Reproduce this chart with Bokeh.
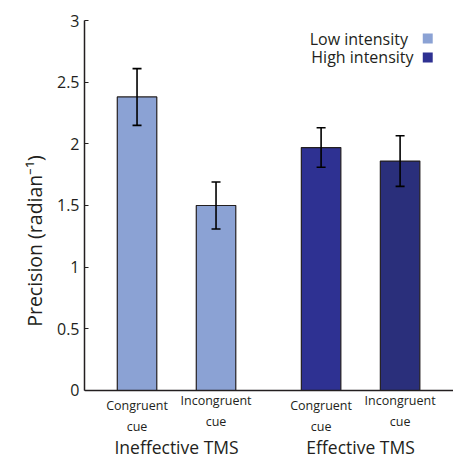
from bokeh.plotting import figure
from bokeh.models import (Range1d, FixedTicker, Whisker, TeeHead, Span,
                          ColumnDataSource, Label, BoxAnnotation, CustomJSTickFormatter)
from bokeh.core.properties import value
from bokeh.embed import file_html
from bokeh.resources import INLINE

# ---- data ----
groups = ["Ineffective TMS", "Effective TMS"]
cues = ["Congruent\ncue", "Incongruent\ncue"]
precision = [2.38, 1.50, 1.97, 1.86]
sem = [0.23, 0.19, 0.16, 0.205]
intensity = ["Low intensity", "Low intensity", "High intensity", "High intensity"]
bar_colors = ["#8ba2d4", "#8ba2d4", "#2e3192", "#2a2f7b"]
y_ticks = [0, 0.5, 1, 1.5, 2, 2.5, 3]
y_tick_labels = ["0", "0.5", "1", "1.5", "2", "2.5", "3"]
legend_labels = ["Low intensity", "High intensity"]
legend_colors = ["#8ba2d4", "#2e3192"]

# ---- style ----
FONT = "Open Sans"
TXT = "#231f20"
cue_label_offset = [-0.207, -0.166]   # vertical placement of the cue labels below the axis
group_label_offset = -0.455

group_gap = 1.33
xs, x_labels, cue_y = [], [], []
for gi, g in enumerate(groups):
    for ci, c in enumerate(cues):
        xs.append(gi * (len(cues) - 1 + group_gap) + ci)
        x_labels.append(c)
        cue_y.append(cue_label_offset[ci])
group_centers = [sum(xs[i * len(cues):(i + 1) * len(cues)]) / len(cues) for i in range(len(groups))]

src = ColumnDataSource(dict(
    x=xs, top=precision, color=bar_colors, label=intensity,
    upper=[v + e for v, e in zip(precision, sem)],
    lower=[v - e for v, e in zip(precision, sem)],
))

p = figure(width=453, height=461,
           x_range=Range1d(-0.665, 4.006), y_range=Range1d(-0.5757, 3),
           output_backend="svg", toolbar_location=None,
           min_border_left=84, min_border_right=0, min_border_top=20, min_border_bottom=0)
p.xgrid.visible = False
p.ygrid.visible = False
p.outline_line_color = None
p.xaxis.visible = False

p.vbar(x="x", top="top", bottom=0, width=0.5, fill_color="color",
       line_color=TXT, line_width=1.2, source=src)

wh = Whisker(base="x", upper="upper", lower="lower", source=src,
             line_color="black", line_width=1.6, level="annotation",
             upper_head=TeeHead(size=9, line_width=1.6, line_color="black"),
             lower_head=TeeHead(size=9, line_width=1.6, line_color="black"))
p.add_layout(wh)

# horizontal axis line at zero
p.add_layout(Span(location=0, dimension="width", line_color=TXT, line_width=1.5))

ya = p.yaxis[0]
ya.bounds = (0, 3)
ya.ticker = FixedTicker(ticks=y_ticks)
ya.formatter = CustomJSTickFormatter(args=dict(tvals=y_ticks, tlabels=y_tick_labels), code="""
    for (let i = 0; i < tvals.length; i++) { if (Math.abs(tvals[i] - tick) < 1e-6) return tlabels[i]; }
    return "";
""")
ya.minor_tick_line_color = None
ya.major_tick_in = 4
ya.major_tick_out = 0
ya.major_tick_line_color = TXT
ya.major_tick_line_width = 1.2
ya.axis_line_color = TXT
ya.axis_line_width = 1.5
ya.major_label_text_font = FONT
ya.major_label_text_font_size = "16px"
ya.major_label_text_color = TXT
ya.major_label_standoff = 5
ya.axis_label = "Precision (radian\u207b\u00b9)"
ya.axis_label_text_font = FONT
ya.axis_label_text_font_size = "19.5px"
ya.axis_label_text_font_style = "normal"
ya.axis_label_text_color = TXT
ya.axis_label_standoff = 6

# cue labels and group labels below the zero line
cue_src = ColumnDataSource(dict(x=xs, y=cue_y, text=x_labels))
p.text(x="x", y="y", text="text", source=cue_src, text_align="center",
       text_baseline="middle", text_font=value(FONT), text_font_size="12.5px",
       text_color=TXT, text_line_height=1.2)
grp_src = ColumnDataSource(dict(x=group_centers, y=[group_label_offset] * len(groups), text=groups))
p.text(x="x", y="y", text="text", source=grp_src, text_align="center",
       text_baseline="middle", text_font=value(FONT), text_font_size="17.5px", text_color=TXT)

# legend: text then colour square
leg_y = [2.854, 2.70]
leg_text_x = [3.43, 3.50]
for lab, col, ly, lx in zip(legend_labels, legend_colors, leg_y, leg_text_x):
    p.add_layout(Label(x=lx, y=ly, text=lab, text_align="right", text_baseline="middle",
                       text_font=FONT, text_font_size="16px", text_color=TXT))
    p.add_layout(BoxAnnotation(left=3.617, right=3.743, bottom=ly - 0.04, top=ly + 0.04,
                               fill_color=col, fill_alpha=1, line_color=None))

open("out.html", "w").write(file_html(p, INLINE))
